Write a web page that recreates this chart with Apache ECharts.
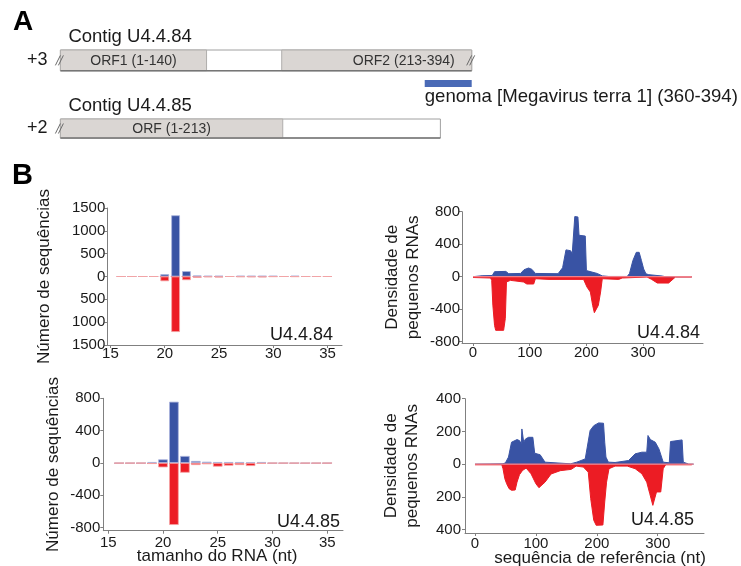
<!DOCTYPE html>
<html>
<head>
<meta charset="utf-8">
<script src="https://cdn.jsdelivr.net/npm/echarts@6/dist/echarts.min.js"></script>
<style>
  html, body { margin: 0; padding: 0; background: #fff; }
  #chart { width: 741px; height: 566px; }
</style>
</head>
<body>
<div id="chart"></div>
<script>
// --- Panel A: contig maps ---
var contigNames = ['Contig U4.4.84', 'Contig U4.4.85'];
var contigFrames = ['+3', '+2'];
var contigLengths = [394, 364];
var contigCut = [[true, true], [true, false]];
var orfContig = [0, 0, 1];
var orfStart = [1, 213, 1];
var orfEnd = [140, 394, 213];
var orfLabels = ['ORF1 (1-140)', 'ORF2 (213-394)', 'ORF (1-213)'];
var hitStart = [349];
var hitEnd = [394];
var hitLabels = ['genoma [Megavirus terra 1] (360-394)'];

// --- Panel B: size distribution (sense +, antisense -) ---
var readLengths = [16, 17, 18, 19, 20, 21, 22, 23, 24, 25, 26, 27, 28, 29, 30, 31, 32, 33, 34, 35];
var u84Sense = [0, 0, 0, 0, 51, 1340, 117, 22, 15, 15, 0, 15, 15, 15, 15, 0, 15, 0, 0, 0];
var u84Anti = [0, 0, 0, 0, 103, 1215, 80, 29, 15, 22, 0, 10, 15, 20, 5, 0, 5, 0, 0, 0];
var u85Sense = [0, 0, 0, 12, 45, 758, 87, 25, 16, 12, 12, 12, 8, 12, 0, 0, 0, 0, 0, 0];
var u85Anti = [0, 0, 0, 12, 54, 766, 120, 25, 16, 45, 33, 25, 37, 8, 0, 0, 0, 0, 0, 0];

// --- Panel B: density along the reference ---
var u84Span = [0, 386];
var u84SensePos = [0, 16, 34, 38, 58, 63, 84, 90, 98, 104, 110, 150, 158, 164, 167, 172, 175, 178, 179.5, 185, 187, 198, 200, 219, 228, 239, 272, 276, 282, 288, 293, 297, 301, 305, 310, 334, 339, 386];
var u84SenseVal = [0, 12, 15, 62, 65, 37, 40, 86, 107, 90, 40, 37, 110, 330, 345, 320, 285, 290, 740, 735, 510, 500, 75, 40, 10, 3, 3, 40, 200, 300, 300, 200, 95, 35, 25, 8, 0, 0];
var u84AntiPos = [0, 31, 33, 35, 38, 40, 54, 57, 59, 66, 89, 95, 107, 110, 134, 195, 201, 207, 211, 214, 217, 221, 225, 228, 257, 263, 307, 315, 325, 345, 357, 386];
var u84AntiVal = [-10, -16, -45, -350, -600, -660, -660, -515, -65, -45, -65, -90, -90, -25, -33, -33, -127, -189, -353, -443, -440, -353, -189, -25, -33, -16, -4, -33, -78, -78, -4, -4];

var u85Span = [0, 359];
var u85SensePos = [0, 46, 50, 55, 60, 69, 73, 76, 77, 78.5, 80, 83, 88, 95, 98, 107, 115, 157, 167, 181, 184, 189, 195, 203, 211, 213, 215, 219, 230, 252, 263, 274, 282, 284, 288, 291, 296, 302, 309, 311, 319, 321, 324, 340, 342, 344, 351, 359];
var u85SenseVal = [0, 2, 8, 43, 134, 150, 144, 124, 215, 215, 134, 154, 164, 164, 67, 57, 12, 2, 12, 32, 22, 205, 235, 252, 250, 134, 43, 12, 10, 22, 63, 73, 73, 175, 150, 144, 134, 93, 12, 8, 8, 138, 148, 148, 12, 6, 0, 0];
var u85AntiPos = [0, 44, 46, 49, 52, 56, 60, 66, 69, 73, 78, 84, 92, 100, 105, 115, 125, 140, 158, 166, 178, 186, 190, 195, 199, 210, 213, 216, 220, 230, 250, 263, 274, 282, 287, 292, 295, 298, 305, 309, 313, 356];
var u85AntiVal = [-4, -4, -28, -89, -120, -150, -160, -158, -110, -65, -39, -24, -59, -120, -144, -110, -60, -40, -32, -12, -18, -49, -211, -343, -374, -372, -231, -110, -28, -12, -12, -28, -59, -110, -181, -252, -240, -170, -170, -28, -4, -4];

var FONT = '"Liberation Sans", Arial, Helvetica, sans-serif';
var ink = '#1a1a1a';
var axisGray = '#808080';
var blue = '#3953a4';
var red = '#ec1c24';
var pink = '#f0808a';

function zip(xs, ys) { return xs.map(function(x, i) { return [x, ys[i]]; }); }
function pairs(xs, ys, sign) { return xs.map(function(x, i) { return [x, sign * ys[i]]; }); }

// track layout for panel A (pixels, y axis of grid 0 is 0..150 px)
var trackTop = [50, 119];
var trackBottom = [70.7, 138];

function slash(x, yc) {
  return [
    { type: 'line', shape: { x1: x - 5, y1: yc + 5, x2: x, y2: yc - 5 }, style: { stroke: '#6a6a6a', lineWidth: 1 } },
    { type: 'line', shape: { x1: x - 2, y1: yc + 5, x2: x + 3, y2: yc - 5 }, style: { stroke: '#6a6a6a', lineWidth: 1 } }
  ];
}

function renderContig(params, api) {
  var i = params.dataIndex;
  var p0 = api.coord([0, trackTop[i]]);
  var p1 = api.coord([contigLengths[i], trackBottom[i]]);
  var x0 = p0[0], y0 = p0[1], x1 = p1[0], y1 = p1[1];
  var yc = (y0 + y1) / 2;
  var kids = [
    { type: 'rect', shape: { x: x0, y: y0, width: x1 - x0, height: y1 - y0 }, style: { fill: '#fff', stroke: '#a0a0a0', lineWidth: 1 } }
  ];
  orfContig.forEach(function(c, k) {
    if (c !== i) return;
    var xa = api.coord([orfStart[k] - 1, 0])[0];
    var xb = api.coord([orfEnd[k], 0])[0];
    kids.push({ type: 'rect', shape: { x: xa, y: y0, width: xb - xa, height: y1 - y0 }, style: { fill: '#dad6d3', stroke: '#b0aeac', lineWidth: 1 } });
    var atEnd = orfEnd[k] === contigLengths[i];
    kids.push({ type: 'text', style: {
      text: orfLabels[k], x: atEnd ? xb - 17 : (xa + xb) / 2, y: yc + 0.5,
      align: atEnd ? 'right' : 'center', verticalAlign: 'middle',
      fill: '#333', fontSize: 14, fontFamily: FONT } });
  });
  kids.push({ type: 'line', shape: { x1: x0, y1: y1, x2: x1, y2: y1 }, style: { stroke: '#767676', lineWidth: 1.6 } });
  if (contigCut[i][0]) kids = kids.concat(slash(x0, yc));
  if (contigCut[i][1]) kids = kids.concat(slash(x1, yc));
  kids.push({ type: 'text', style: { text: contigNames[i], x: x0 + 8, y: y0 - 13, align: 'left', verticalAlign: 'middle', fill: ink, fontSize: 18.5, fontFamily: FONT } });
  kids.push({ type: 'text', style: { text: contigFrames[i], x: x0 - 13, y: yc, align: 'right', verticalAlign: 'middle', fill: ink, fontSize: 18, fontFamily: FONT } });
  return { type: 'group', children: kids };
}

function renderHit(params, api) {
  var i = params.dataIndex;
  var pa = api.coord([hitStart[i], 80]);
  var pb = api.coord([hitEnd[i], 87]);
  return { type: 'group', children: [
    { type: 'rect', shape: { x: pa[0], y: pa[1], width: pb[0] - pa[0], height: pb[1] - pa[1] }, style: { fill: '#4a6ab6' } },
    { type: 'text', style: { text: hitLabels[i], x: pa[0], y: 97, align: 'left', verticalAlign: 'middle', fill: ink, fontSize: 18.6, fontFamily: FONT } }
  ] };
}

function valueAxis(o) {
  var ax = {
    type: 'value', gridIndex: o.grid, min: o.min, max: o.max,
    axisLine: { show: true, onZero: false, lineStyle: { color: axisGray, width: 1 } },
    axisTick: { show: true, length: 3, customValues: o.ticks, lineStyle: { color: axisGray } },
    axisLabel: { customValues: o.ticks, color: ink, fontSize: 15, fontFamily: FONT, margin: o.margin, formatter: o.fmt },
    splitLine: { show: false }
  };
  if (o.name) {
    ax.name = o.name;
    ax.nameLocation = 'middle';
    ax.nameGap = o.nameGap;
    ax.nameMoveOverlap = false;
    if (o.rotate) ax.nameRotate = o.rotate;
    ax.nameTextStyle = { color: ink, fontSize: 17, fontFamily: FONT, lineHeight: o.rotate ? 21 : 17, padding: o.namePad || 0 };
  }
  return ax;
}

var absFmt = function(v) { return String(Math.abs(v)); };
var plainFmt = function(v) { return String(v); };

function grid(l, t, w, h) {
  return { left: l, top: t, width: w, height: h, containLabel: false, outerBoundsMode: 'none' };
}

var chart = echarts.init(document.getElementById('chart'), null, { renderer: 'canvas' });
chart.setOption({
  animation: false,
  backgroundColor: '#fff',
  grid: [
    grid(60.4, 0, 411.3, 150),
    grid(107.3, 208, 234.7, 137),
    grid(462, 211.7, 241, 131.3),
    grid(103.3, 398.3, 239.7, 132.4),
    grid(465, 398.7, 239, 134.3)
  ],
  xAxis: [
    { type: 'value', gridIndex: 0, min: 0, max: 394, show: false },
    valueAxis({ grid: 1, min: 14.71, max: 36.33, ticks: [15, 20, 25, 30, 35], margin: 1, fmt: plainFmt }),
    valueAxis({ grid: 2, min: -19.4, max: 405.6, ticks: [0, 100, 200, 300], margin: 2, fmt: plainFmt }),
    valueAxis({ grid: 3, min: 14.55, max: 36.44, ticks: [15, 20, 25, 30, 35], margin: 5, fmt: plainFmt,
      name: 'tamanho do RNA (nt)', nameGap: 17, namePad: [0, 12, 0, 0] }),
    valueAxis({ grid: 4, min: -16.4, max: 376, ticks: [0, 100, 200, 300], margin: 3.5, fmt: plainFmt,
      name: 'sequência de referência (nt)', nameGap: 17, namePad: [0, 0, 0, 31] })
  ],
  yAxis: [
    { type: 'value', gridIndex: 0, min: 0, max: 150, inverse: true, show: false },
    valueAxis({ grid: 1, min: -1500, max: 1500, ticks: [-1500, -1000, -500, 0, 500, 1000, 1500], margin: 2, fmt: absFmt,
      name: 'Número de sequências', nameGap: 52, rotate: 90 }),
    valueAxis({ grid: 2, min: -816, max: 800, ticks: [-800, -400, 0, 400, 800], margin: 2, fmt: plainFmt,
      name: 'Densidade de\npequenos RNAs', nameGap: 38, rotate: 90 }),
    valueAxis({ grid: 3, min: -837, max: 800, ticks: [-800, -400, 0, 400, 800], margin: 3, fmt: plainFmt,
      name: 'Número de sequências', nameGap: 39, rotate: 90 }),
    valueAxis({ grid: 4, min: -421, max: 400, ticks: [-400, -200, 0, 200, 400], margin: 4, fmt: absFmt,
      name: 'Densidade de\npequenos RNAs', nameGap: 42, rotate: 90 })
  ],
  graphic: [
    { type: 'text', x: 13, y: 22, style: { text: 'A', fill: '#000', font: 'bold 28px ' + FONT, verticalAlign: 'middle' } },
    { type: 'text', x: 12, y: 176, style: { text: 'B', fill: '#000', font: 'bold 29px ' + FONT, verticalAlign: 'middle' } },
    { type: 'text', x: 333, y: 335, style: { text: 'U4.4.84', fill: ink, font: '18px ' + FONT, align: 'right', verticalAlign: 'middle' } },
    { type: 'text', x: 700, y: 333, style: { text: 'U4.4.84', fill: ink, font: '18px ' + FONT, align: 'right', verticalAlign: 'middle' } },
    { type: 'text', x: 340, y: 522, style: { text: 'U4.4.85', fill: ink, font: '18px ' + FONT, align: 'right', verticalAlign: 'middle' } },
    { type: 'text', x: 694, y: 520, style: { text: 'U4.4.85', fill: ink, font: '18px ' + FONT, align: 'right', verticalAlign: 'middle' } }
  ],
  series: [
    { type: 'custom', xAxisIndex: 0, yAxisIndex: 0, clip: false, renderItem: renderContig,
      data: contigNames.map(function(n, i) { return [i]; }) },
    { type: 'custom', xAxisIndex: 0, yAxisIndex: 0, clip: false, renderItem: renderHit,
      data: hitStart.map(function(s, i) { return [s]; }) },

    // U4.4.84 sizes
    { type: 'bar', xAxisIndex: 1, yAxisIndex: 1, stack: 'u84', barWidth: 8.7,
      data: pairs(readLengths, u84Sense, 1),
      itemStyle: { color: blue, borderColor: '#a9b3dc', borderWidth: 0.8 },
      markLine: { silent: true, symbol: 'none', label: { show: false }, z: 1,
        lineStyle: { color: pink, width: 1.2, type: [8.7, 2.16] },
        data: [[{ coord: [readLengths[0] - 0.45, 0] }, { coord: [readLengths[readLengths.length - 1] + 0.45, 0] }]] } },
    { type: 'bar', xAxisIndex: 1, yAxisIndex: 1, stack: 'u84', barWidth: 8.7,
      data: pairs(readLengths, u84Anti, -1),
      itemStyle: { color: red, borderColor: '#f5a3a3', borderWidth: 0.8 } },

    // U4.4.84 density
    { type: 'line', xAxisIndex: 2, yAxisIndex: 2, symbol: 'none', data: zip(u84SensePos, u84SenseVal),
      lineStyle: { color: blue, width: 1 }, areaStyle: { color: blue, opacity: 1 } },
    { type: 'line', xAxisIndex: 2, yAxisIndex: 2, symbol: 'none', data: zip(u84AntiPos, u84AntiVal),
      lineStyle: { color: red, width: 1 }, areaStyle: { color: red, opacity: 1 } },
    { type: 'line', xAxisIndex: 2, yAxisIndex: 2, symbol: 'none', z: 3, data: [[u84Span[0], 0], [u84Span[1], 0]],
      lineStyle: { color: pink, width: 1.3 } },

    // U4.4.85 sizes
    { type: 'bar', xAxisIndex: 3, yAxisIndex: 3, stack: 'u85', barWidth: 9.6,
      data: pairs(readLengths, u85Sense, 1),
      itemStyle: { color: blue, borderColor: '#a9b3dc', borderWidth: 0.8 },
      markLine: { silent: true, symbol: 'none', label: { show: false }, z: 1,
        lineStyle: { color: pink, width: 1.2, type: [9.3, 1.65] },
        data: [[{ coord: [readLengths[0] - 0.45, 0] }, { coord: [readLengths[readLengths.length - 1] + 0.45, 0] }]] } },
    { type: 'bar', xAxisIndex: 3, yAxisIndex: 3, stack: 'u85', barWidth: 9.6,
      data: pairs(readLengths, u85Anti, -1),
      itemStyle: { color: red, borderColor: '#f5a3a3', borderWidth: 0.8 } },

    // U4.4.85 density
    { type: 'line', xAxisIndex: 4, yAxisIndex: 4, symbol: 'none', data: zip(u85SensePos, u85SenseVal),
      lineStyle: { color: blue, width: 1 }, areaStyle: { color: blue, opacity: 1 } },
    { type: 'line', xAxisIndex: 4, yAxisIndex: 4, symbol: 'none', data: zip(u85AntiPos, u85AntiVal),
      lineStyle: { color: red, width: 1 }, areaStyle: { color: red, opacity: 1 } },
    { type: 'line', xAxisIndex: 4, yAxisIndex: 4, symbol: 'none', z: 3, data: [[u85Span[0], 0], [u85Span[1], 0]],
      lineStyle: { color: pink, width: 1.3 } }
  ]
});
</script>
</body>
</html>
